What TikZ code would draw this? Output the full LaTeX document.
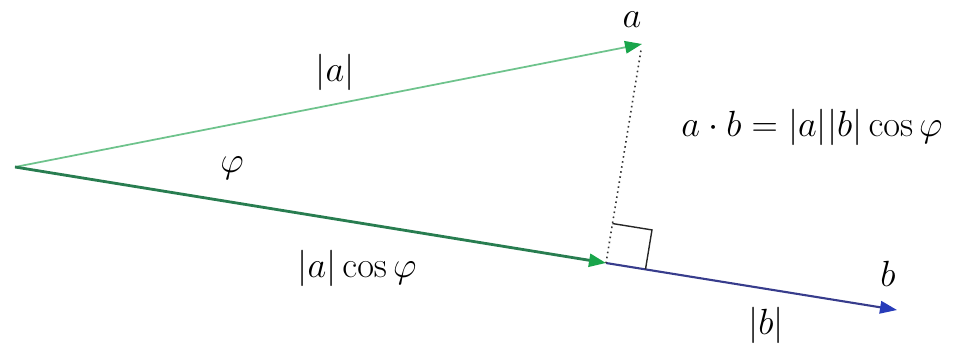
\documentclass[tikz,border=0pt]{standalone}
\usepackage{amsmath}
\usepackage{tikz}
\usetikzlibrary{
    positioning,
    arrows.meta,
    calc,
}
\definecolor{lightgreen}{RGB}{110,195,140}
\definecolor{darkgreen}{RGB}{40,125,80}
\definecolor{headgreen}{RGB}{25,165,75}
\definecolor{navyblue}{RGB}{55,60,140}
\definecolor{headblue}{RGB}{40,60,185}
\tikzset{
    % Vector styles
    vec/.style={-{Triangle[length=3.4mm,width=2.5mm]}},
    vec a/.style={vec, lightgreen, line width=1pt, arrows={-{Triangle[length=3.4mm,width=2.5mm,color=headgreen]}}},
    vec proj/.style={vec, darkgreen, line width=1.6pt, arrows={-{Triangle[length=3.4mm,width=2.6mm,color=headgreen]}}},
    vec b/.style={vec, navyblue, line width=1.2pt, arrows={-{Triangle[length=3.4mm,width=2.5mm,color=headblue]}}},
    % Helper lines
    drop/.style={dotted, black!80, line width=0.9pt},
    right angle/.style={black!85, line width=0.8pt},
    % Labels
    lbl/.style={font=\huge, inner sep=1pt},
}

\begin{document}
\begin{tikzpicture}[x=0.02cm, y=-0.02cm]
    \useasboundingbox (0,0) rectangle (953,355);

    % Points
    \coordinate (O) at (15,167);
    \coordinate (A) at (642,44);
    \coordinate (P) at (606,263);
    \coordinate (B) at (897,310);

    % Vectors
    \draw[vec a] (O) -- (A);
    \draw[vec proj] (O) -- (P);
    \draw[vec b] (P) -- (B);

    % Drop from a onto b
    \draw[drop] ($(A)!0.03!(P)$) -- (P);
    \coordinate (Pb) at ($(P)!0.8cm!(B)$);
    \coordinate (Pa) at ($(P)!0.8cm!(A)$);
    \draw[right angle] (Pb) -- ($(Pb)+(Pa)-(P)$) -- (Pa);

    % Labels
    \node[lbl] (la) at (632,20) {$a$};
    \node[lbl] (lb) at (888,274) {$b$};
    \node[lbl] (lnorma) at (335,72) {$|a|$};
    \node[lbl] (lphi) at (232,168) {$\varphi$};
    \node[lbl] (lproj) at (357,268) {$|a|\cos\varphi$};
    \node[lbl] (lnormb) at (766,325) {$|b|$};
    \node[lbl] (ldot) at (812,127) {$a\cdot b=|a||b|\cos\varphi$};
\end{tikzpicture}
\end{document}
